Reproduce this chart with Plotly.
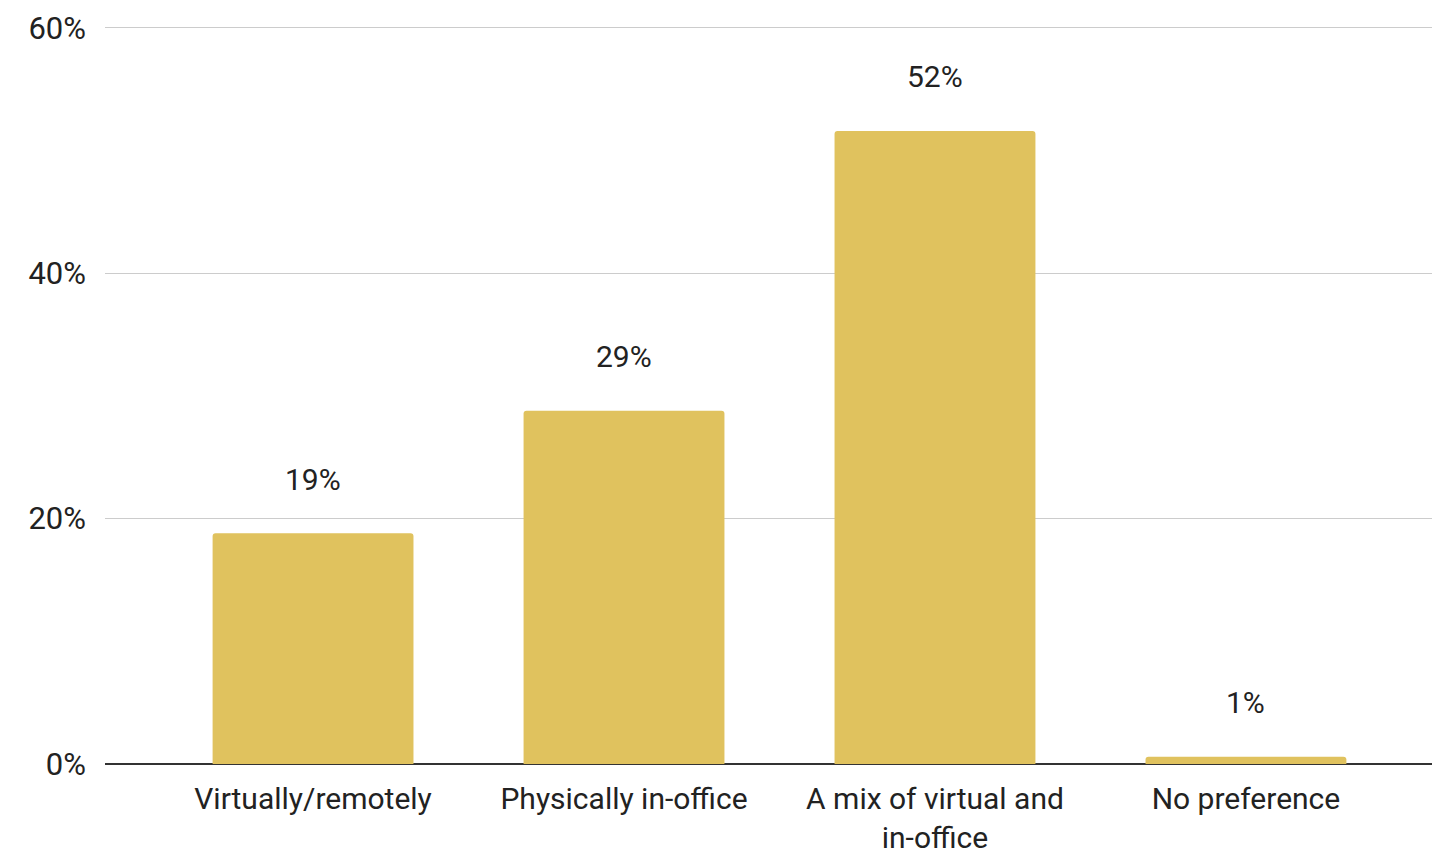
import plotly.graph_objects as go

categories = ["Virtually/remotely", "Physically in-office", "A mix of virtual and<br>in-office", "No preference"]
shares = [0.188, 0.288, 0.516, 0.006]
y_ticks = [0, 0.2, 0.4, 0.6]
y_tick_labels = ["0%", "20%", "40%", "60%"]

FONT = "Roboto"
fig = go.Figure()
fig.add_trace(go.Bar(
    x=categories, y=shares,
    marker=dict(color="#E0C25E", line=dict(width=0), cornerradius=3),
    width=0.646,
    hoverinfo="skip",
))
for c, v in zip(categories, shares):
    fig.add_annotation(x=c, y=v, text=f"{round(v*100):.0f}%", showarrow=False,
                       yanchor="middle", yshift=54,
                       font=dict(family=FONT, size=30, color="#222"))

# page body has an 8px default margin -> compensate
fig.update_layout(
    width=1432, height=846,
    margin=dict(l=97, r=0, t=18, b=90),
    paper_bgcolor="white", plot_bgcolor="white",
    showlegend=False,
    font=dict(family=FONT, size=30, color="#222"),
    xaxis=dict(range=[-0.669, 3.624], showgrid=False, showline=False, ticks="",
               ticklabelstandoff=14, automargin=False,
               tickfont=dict(family=FONT, size=30, color="#222")),
    yaxis=dict(range=[0, 0.6015], tickvals=y_ticks, ticktext=y_tick_labels,
               showgrid=True, gridcolor="#cccccc", gridwidth=1,
               zeroline=True, zerolinecolor="#333333", zerolinewidth=2,
               showline=False, ticks="", ticklabelstandoff=18, automargin=False,
               tickfont=dict(family=FONT, size=31, color="#222")),
)
fig.write_html("out.html")
